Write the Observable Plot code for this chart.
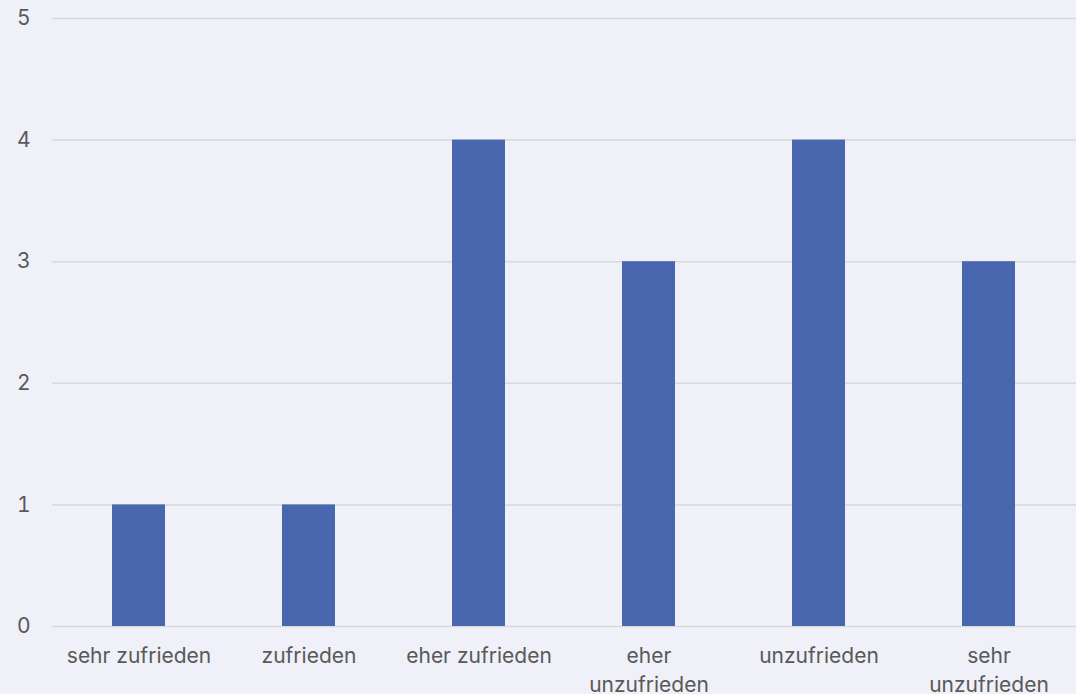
<!DOCTYPE html>
<html>
<head>
<meta charset="utf-8">
<script src="https://cdn.jsdelivr.net/npm/d3@7"></script>
<script src="https://cdn.jsdelivr.net/npm/@observablehq/plot@0.6"></script>
<style>
  html, body { margin: 0; padding: 0; background: #eff0f8; }
  #chart svg { display: block; }
</style>
</head>
<body>
<div id="chart"></div>
<script>
// Satisfaction answers and how many respondents gave each
const categories = ["sehr zufrieden", "zufrieden", "eher zufrieden", "eher unzufrieden", "unzufrieden", "sehr unzufrieden"];
const counts = [1, 1, 4, 3, 4, 3];
// Axis labels (long answers wrap onto two lines)
const tickLabels = ["sehr zufrieden", "zufrieden", "eher zufrieden", "eher\nunzufrieden", "unzufrieden", "sehr\nunzufrieden"];
const yTicks = [0, 1, 2, 3, 4, 5];

const data = categories.map((c, i) => ({category: c, count: counts[i]}));

const chart = Plot.plot({
  width: 1076,
  height: 694,
  marginTop: 18,
  marginBottom: 68,
  marginLeft: 52,
  marginRight: 0,
  style: {background: "#eff0f8", fontFamily: "Inter, 'Noto Sans', sans-serif", fontSize: "21px", color: "#595959"},
  x: {domain: categories, paddingInner: 0.6875, paddingOuter: 0.34375, label: null},
  y: {domain: [0, 5], label: null},
  marks: [
    Plot.ruleY(yTicks, {stroke: "#d9d9d9", strokeWidth: 1.5}),
    Plot.barY(data, {x: "category", y: "count", fill: "#4967ae"}),
    Plot.axisY(yTicks, {tickSize: 0, tickPadding: 22, fill: "#595959", fontSize: 21, tickFormat: d => String(d)}),
    Plot.axisX({tickSize: 0, tickPadding: 16, fill: "#595959", fontSize: 21, lineHeight: 1.38,
      tickFormat: d => tickLabels[categories.indexOf(d)]})
  ]
});

document.getElementById("chart").appendChild(chart);
</script>
</body>
</html>
